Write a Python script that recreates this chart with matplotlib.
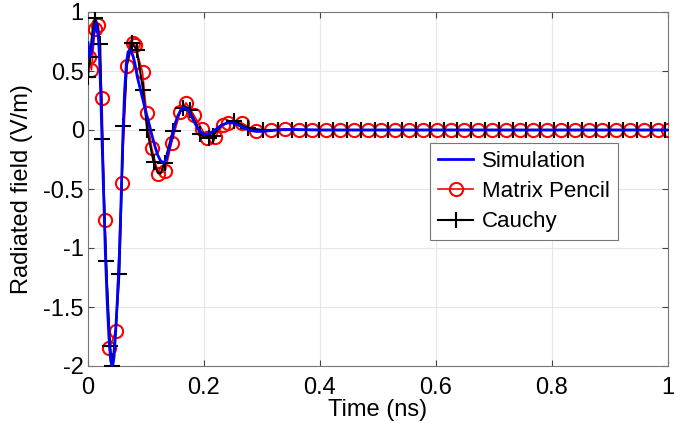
import numpy as np
import matplotlib
matplotlib.use('Agg')
import matplotlib.pyplot as plt

plt.rcParams['font.family'] = ['Liberation Sans', 'DejaVu Sans']
plt.rcParams['axes.unicode_minus'] = False

# simulated radiated field
sim_t = [0.000, 0.003, 0.006, 0.010, 0.014, 0.018, 0.020, 0.022, 0.024, 0.027,
         0.030, 0.033, 0.036, 0.039, 0.042, 0.045, 0.048, 0.051, 0.054, 0.057,
         0.060, 0.063, 0.066, 0.069, 0.072, 0.075, 0.078, 0.081, 0.085, 0.090,
         0.095, 0.100, 0.105, 0.110, 0.115, 0.120, 0.125, 0.130, 0.135, 0.140,
         0.145, 0.150, 0.155, 0.160, 0.165, 0.170, 0.175, 0.180, 0.185, 0.190,
         0.195, 0.200, 0.205, 0.210, 0.215, 0.220, 0.230, 0.240, 0.250, 0.260,
         0.270, 0.280, 0.290, 0.300, 0.320, 0.340, 0.360, 0.400, 0.500, 1.000]
sim_y = [0.74, 0.62, 0.66, 0.82, 0.91, 0.78, 0.60, 0.30, -0.05, -0.55,
         -1.05, -1.45, -1.75, -1.95, -2.02, -1.92, -1.68, -1.40, -1.08, -0.60,
         -0.08, 0.32, 0.56, 0.66, 0.68, 0.66, 0.62, 0.56, 0.45, 0.35,
         0.25, 0.15, 0.06, -0.04, -0.13, -0.21, -0.26, -0.28, -0.25, -0.16,
         -0.05, 0.05, 0.12, 0.17, 0.19, 0.185, 0.15, 0.10, 0.05, 0.01,
         -0.02, -0.035, -0.035, -0.03, -0.015, 0.005, 0.04, 0.06, 0.06, 0.04,
         0.015, -0.005, -0.012, -0.012, -0.003, 0.004, 0.004, 0.0, 0.0, 0.0]

# matrix pencil samples
mp_t = [0.001, 0.006, 0.012, 0.018, 0.024, 0.029, 0.037, 0.048, 0.058, 0.067,
        0.077, 0.081, 0.094, 0.101, 0.110, 0.121, 0.133, 0.144, 0.159, 0.169,
        0.182, 0.196, 0.205, 0.219, 0.232, 0.242, 0.265, 0.290, 0.315, 0.339,
        0.363, 0.387, 0.411, 0.434, 0.458, 0.482, 0.506, 0.530, 0.553, 0.577,
        0.601, 0.625, 0.649, 0.672, 0.696, 0.720, 0.744, 0.768, 0.791, 0.815,
        0.839, 0.863, 0.887, 0.910, 0.934, 0.958, 0.982, 1.000]
mp_y = [0.62, 0.51, 0.86, 0.89, 0.27, -0.76, -1.85, -1.70, -0.45, 0.54,
        0.74, 0.72, 0.49, 0.14, -0.155, -0.37, -0.35, -0.11, 0.155, 0.23,
        0.13, 0.01, -0.07, -0.06, 0.04, 0.06, 0.06, -0.01, 0.0, 0.01,
        0.0, 0.0, 0.0, 0.0, 0.0, 0.0, 0.0, 0.0, 0.0, 0.0,
        0.0, 0.0, 0.0, 0.0, 0.0, 0.0, 0.0, 0.0, 0.0, 0.0,
        0.0, 0.0, 0.0, 0.0, 0.0, 0.0, 0.0, 0.0]

# cauchy model curve; cauchy_marks = indices drawn with '+'
cauchy_t = [0.000, 0.003, 0.008, 0.012, 0.016, 0.021, 0.0245, 0.031, 0.038, 0.042,
            0.048, 0.054, 0.061, 0.067, 0.075, 0.084, 0.095, 0.102, 0.113, 0.120,
            0.125, 0.132, 0.146, 0.155, 0.163, 0.168, 0.175, 0.185, 0.193, 0.200,
            0.209, 0.215, 0.230, 0.251, 0.276, 0.302, 0.327, 0.351, 0.375, 0.399,
            0.423, 0.446, 0.470, 0.494, 0.518, 0.542, 0.565, 0.589, 0.613, 0.637,
            0.661, 0.684, 0.708, 0.732, 0.756, 0.780, 0.803, 0.827, 0.851, 0.875,
            0.899, 0.922, 0.946, 0.970, 0.994]
cauchy_y = [0.45, 0.62, 0.85, 0.95, 0.90, 0.73, -0.08, -1.11, -1.83, -2.0,
            -1.68, -1.22, 0.03, 0.55, 0.74, 0.68, 0.34, 0.0, -0.27, -0.36,
            -0.37, -0.28, -0.01, 0.12, 0.19, 0.20, 0.17, 0.07, -0.03, -0.06,
            -0.07, -0.05, 0.04, 0.08, 0.015, 0.0, 0.0, 0.0, 0.0, 0.0,
            0.0, 0.0, 0.0, 0.0, 0.0, 0.0, 0.0, 0.0, 0.0, 0.0,
            0.0, 0.0, 0.0, 0.0, 0.0, 0.0, 0.0, 0.0, 0.0, 0.0,
            0.0, 0.0, 0.0, 0.0, 0.0]
cauchy_marks = [0, 1, 3, 5, 6, 7, 8, 9, 11, 12, 14, 15, 16, 17, 18, 21, 22,
                24, 26, 28, 30, 31, 33] + list(range(34, 65))

xticks = [0, 0.2, 0.4, 0.6, 0.8, 1]
yticks = [-2, -1.5, -1, -0.5, 0, 0.5, 1]
xtick_labels = ['0', '0.2', '0.4', '0.6', '0.8', '1']
ytick_labels = ['-2', '-1.5', '-1', '-0.5', '0', '0.5', '1']

fig = plt.figure(figsize=(6.95, 4.26), dpi=100)
ax = fig.add_axes([88/695, 60/426, 580/695, 354/426])

ax.plot(mp_t, mp_y, '-o', color='red', lw=1.2, ms=9.5, mfc='none', mew=1.5,
        label='Matrix Pencil', zorder=3)
ax.plot(cauchy_t, cauchy_y, '-+', color='black', lw=1.5, ms=11, mew=1.5,
        markevery=cauchy_marks, label='Cauchy', zorder=4)
ax.plot(sim_t, sim_y, '-', color='blue', lw=2.0, label='Simulation', zorder=5)

ax.set_xlim(0, 1)
ax.set_ylim(-2, 1)
ax.set_xticks(xticks)
ax.set_xticklabels(xtick_labels)
ax.set_yticks(yticks)
ax.set_yticklabels(ytick_labels)
ax.tick_params(direction='in', length=4, labelsize=17, color='#444444')
ax.tick_params(axis='x', pad=8)
ax.tick_params(axis='y', pad=3)
ax.tick_params(top=True, right=True)
ax.grid(True, color='#e6e6e6', lw=0.8)
ax.set_axisbelow(True)
for s in ax.spines.values():
    s.set_color('#777777')
    s.set_linewidth(0.8)

ax.set_xlabel('Time (ns)', fontsize=17)
ax.xaxis.set_label_coords(0.5, -0.092)
ax.set_ylabel('Radiated field (V/m)', fontsize=17)
ax.yaxis.set_label_coords(-0.095, 0.5)

h, l = ax.get_legend_handles_labels()
order = [2, 0, 1]
leg = ax.legend([h[i] for i in order], [l[i] for i in order],
                loc='upper left', bbox_to_anchor=((430-88)/580, (366-143)/354),
                borderaxespad=0, fontsize=16, handlelength=1.6, handletextpad=0.4,
                labelspacing=0.42, borderpad=0.35, fancybox=False, framealpha=1)
leg.get_frame().set_edgecolor('#777777')
leg.get_frame().set_linewidth(0.8)

fig.savefig('out.png', dpi=100)
